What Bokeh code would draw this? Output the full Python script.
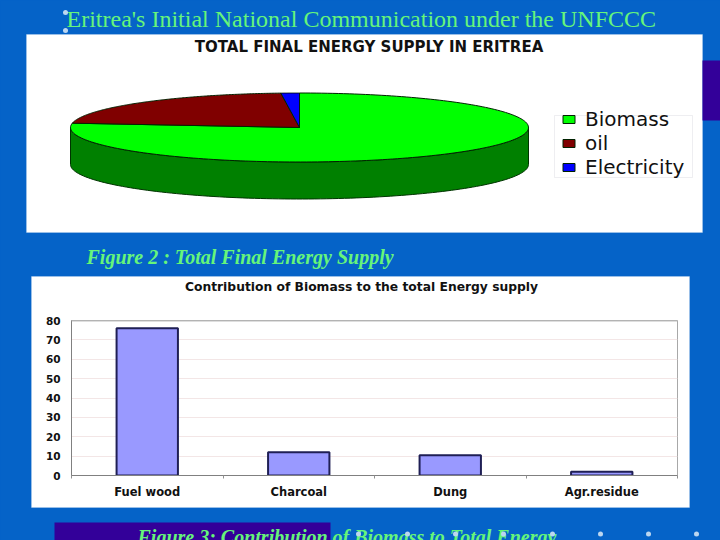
import numpy as np
from bokeh.plotting import figure
from bokeh.layouts import column
from bokeh.models import Label, BoxAnnotation, Legend, LegendItem, Range1d, FixedTicker, Span
from bokeh.embed import file_html
from bokeh.resources import INLINE

pie_labels = ["Biomass", "oil", "Electricity"]
pie_values = [77.0, 21.7, 1.3]
pie_top_colors = ["#00ff00", "#800000", "#0000ff"]
pie_side_color = "#008000"

bar_labels = ["Fuel wood", "Charcoal", "Dung", "Agr.residue"]
bar_values = [76, 12, 10.5, 2]
y_ticks = [0, 10, 20, 30, 40, 50, 60, 70, 80]

BG = "#0563c8"
PURPLE = "#330099"
GREEN = "#66f57a"
DOT = "#bcd6f0"
W = 720
H = 540


def canvas_box(p, l, r, t, b, color, radius=0, level="underlay", line=None):
    p.add_layout(BoxAnnotation(left=l, right=r, top=t, bottom=b,
                               left_units="canvas", right_units="canvas",
                               top_units="canvas", bottom_units="canvas",
                               fill_color=color, fill_alpha=1, line_color=line,
                               level=level, border_radius=radius, editable=False))


def canvas_text(p, x, y, text, size, font, style="normal", color="black", align="left"):
    p.add_layout(Label(x=x, y=y, x_units="canvas", y_units="canvas", text=text,
                       text_font=font, text_font_size=size, text_font_style=style,
                       text_color=color, text_align=align, text_baseline="alphabetic",
                       level="overlay"))


# ---------- slide with 3-D pie ----------
cx, cy, rx, ry, depth = 299, 127, 229, 34.5, 37
p1 = figure(width=W, height=H, output_backend="svg", toolbar_location=None,
            x_axis_location=None, y_axis_location=None,
            min_border=0, frame_align=False,
            x_range=Range1d(-cx / rx, (W - cx) / rx),
            y_range=Range1d((cy - H) / ry, cy / ry),
            border_fill_color=BG, background_fill_color=BG, outline_line_color=None)
p1.grid.visible = False

canvas_box(p1, 26, 702, 34, 232, "white", line="#cfe0f2")
canvas_box(p1, 31, 689, 276, 507, "white", line="#cfe0f2")
canvas_box(p1, 702, 720, 60, 120, PURPLE)
canvas_box(p1, 54, 330, 522, 540, PURPLE)
canvas_box(p1, 554, 692, 115, 177, "white", line="#c8c8d0")

d = depth / ry
fr = np.cumsum([0] + pie_values) / sum(pie_values)
t_side = np.radians(np.linspace(180, 360, 120))
sx = np.cos(t_side)
sy = np.sin(t_side)
p1.patch(np.r_[sx, sx[::-1]], np.r_[sy, sy[::-1] - d], fill_color=pie_side_color, line_color="#003300", line_width=1)

renderers = []
for i in range(len(pie_values)):
    ang = np.pi / 2 - 2 * np.pi * np.linspace(fr[i], fr[i + 1], 200)
    xs = np.r_[0, np.cos(ang), 0]
    ys = np.r_[0, np.sin(ang), 0]
    renderers.append(p1.patch(xs, ys, fill_color=pie_top_colors[i], line_color="#002200", line_width=1))

legend = Legend(items=[LegendItem(label=l, renderers=[r]) for l, r in zip(pie_labels, renderers)],
                location=(561, H - 179), orientation="vertical",
                label_text_font="DejaVu Sans", label_text_font_size="20px", label_text_color="#111111",
                label_standoff=9, glyph_width=15, glyph_height=10, spacing=-7, label_height=18,
                padding=0, margin=0, border_line_color=None,
                background_fill_alpha=0)
p1.add_layout(legend)

canvas_text(p1, 368.5, 46, "TOTAL FINAL ENERGY SUPPLY IN ERITREA", "15px", "DejaVu Sans", "bold", "#111111", "center")
canvas_text(p1, 361, 286, "Contribution of Biomass to the total Energy supply", "12.3px", "DejaVu Sans", "bold", "#111111", "center")
canvas_text(p1, 66, 18, "Eritrea's Initial National Communication under the UNFCCC", "24px", "Liberation Serif", color=GREEN)
canvas_text(p1, 86, 256, "Figure 2 : Total Final Energy Supply", "20px", "Liberation Serif", "bold italic", GREEN)
canvas_text(p1, 137, 536, "Figure 3: Contribution of Biomass to Total Energy", "20px", "Liberation Serif", "bold italic", GREEN)
canvas_box(p1, 62.5, 67.5, 9.5, 14.5, DOT, 3, "overlay")
canvas_box(p1, 62.5, 67.5, 27.5, 32.5, DOT, 3, "overlay")
for bx in [358, 407, 455, 503, 552, 600, 648, 696]:
    canvas_box(p1, bx - 2.5, bx + 2.5, 531, 536, DOT, 3, "overlay")

# ---------- bar chart, laid over the white panel of the slide ----------
PW, PH = 658, 231
p2 = figure(width=PW, height=PH, output_backend="svg", toolbar_location=None,
            min_border_left=40, min_border_right=12, min_border_top=44, min_border_bottom=32,
            frame_align=False,
            x_range=Range1d(0, len(bar_labels)), y_range=Range1d(0, 80),
            border_fill_alpha=0, background_fill_color="white",
            outline_line_color="#a8a8a8", outline_line_width=1,
            margin=(276 - H, 0, 0, 31))

xpos = np.arange(len(bar_labels)) + 0.5
p2.vbar(x=xpos, top=bar_values, width=0.405, bottom=0, fill_color="#9999ff", line_color="#1f1f55", line_width=2)

p2.xgrid.visible = False
p2.ygrid.ticker = FixedTicker(ticks=y_ticks)
p2.ygrid.grid_line_color = "#f3e6e6"
p2.ygrid.grid_line_width = 1
p2.yaxis.ticker = FixedTicker(ticks=y_ticks)
p2.xaxis.ticker = FixedTicker(ticks=list(xpos), minor_ticks=list(range(len(bar_labels) + 1)))
p2.xaxis.major_label_overrides = {float(x): l for x, l in zip(xpos, bar_labels)}
p2.xaxis.minor_tick_out = 3
p2.xaxis.minor_tick_in = 0
p2.xaxis.minor_tick_line_color = "#909090"
p2.yaxis.minor_tick_line_color = None
p2.yaxis.major_tick_in = 0
p2.yaxis.major_tick_out = 3
p2.add_layout(Span(location=80, dimension="width", line_color="#bdbdbd", line_width=2))
for ax in (p2.xaxis, p2.yaxis):
    ax.axis_line_color = "#808080"
    ax.major_tick_line_color = "#808080" if ax is p2.yaxis else None
    ax.major_label_text_font = "DejaVu Sans"
    ax.major_label_text_font_style = "bold"
    ax.major_label_text_color = "#111111"
p2.xaxis.major_label_text_font_size = "11.5px"
p2.yaxis.major_label_text_font_size = "10.5px"
p2.xaxis.major_label_standoff = 3
p2.yaxis.major_label_standoff = 8

root = column(p1, p2, spacing=0)
html = file_html(root, INLINE)
html = html.replace("<head>", f"<head><style>html,body{{margin:0;padding:0;overflow:hidden;background:{BG}}}</style>", 1)
open("out.html", "w").write(html)
